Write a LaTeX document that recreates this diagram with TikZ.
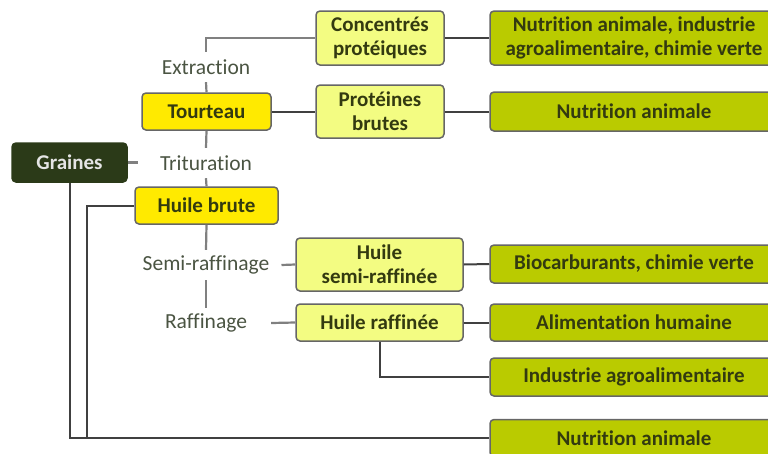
\documentclass[tikz,border=0pt]{standalone}
\usepackage{fontspec}
\setmainfont[Ligatures={NoCommon}]{Carlito}
\usepackage{xcolor}
\usepackage{tikz}
\usetikzlibrary{positioning,calc}

\definecolor{darkgreen}{HTML}{2B3A18}
\definecolor{brightyellow}{HTML}{FFEA00}
\definecolor{paleyellow}{HTML}{F3FC82}
\definecolor{olivegreen}{HTML}{BACB00}
\definecolor{boxtext}{HTML}{333A10}
\definecolor{steptext}{HTML}{4A5442}

\begin{document}
\begin{tikzpicture}[x=1pt, y=-1pt,
    font=\fontsize{21.5}{23}\selectfont,
    box/.style={draw=black!60, line width=1.5pt, rounded corners=4pt, align=center,
        text=boxtext, font=\fontsize{21}{24}\selectfont\bfseries, inner sep=0pt},
    seed/.style={box, fill=darkgreen, text=white!90!black, draw=darkgreen},
    product/.style={box, fill=brightyellow},
    derived/.style={box, fill=paleyellow},
    use/.style={box, fill=olivegreen},
    stage/.style={text=steptext, inner sep=0pt, minimum height=30pt},
    trunk/.style={draw=black!50, line width=2.2pt},
    link/.style={draw=black!75, line width=2pt}]
    \clip (0,0) rectangle (768,453);

    % main chain
    \node[seed, minimum width=115pt, minimum height=39pt] (graines) at (69.5,162.5) {Graines};
    \node[stage] (extr) at (206,67) {Extraction};
    \node[product, minimum width=129pt, minimum height=37pt] (tourteau) at (206.5,111.5) {Tourteau};
    \node[stage] (trit) at (206,163) {Trituration};
    \node[product, minimum width=143pt, minimum height=37pt] (hbrute) at (206.5,205.5) {Huile brute};
    \node[stage] (semi) at (206,265) {Semi-raffinage};
    \node[stage] (raff) at (206,323) {Raffinage};

    % derived products
    \node[derived, minimum width=128pt, minimum height=54pt] (conc) at (380,38) {Concentrés\\protéiques};
    \node[derived, minimum width=128pt, minimum height=53pt] (prot) at (380,111.5) {Protéines\\brutes};
    \node[derived, minimum width=167pt, minimum height=53pt] (hsemi) at (379.5,264.5) {Huile\\semi-raffinée};
    \node[derived, minimum width=167pt, minimum height=37pt] (hraff) at (379.5,322.5) {Huile raffinée};

    % uses
    \node[use, minimum width=288pt, minimum height=54pt] (use1) at (634,38) {Nutrition animale, industrie\\agroalimentaire, chimie verte};
    \node[use, minimum width=288pt, minimum height=39pt] (use2) at (634,111.5) {Nutrition animale};
    \node[use, minimum width=288pt, minimum height=38pt] (use3) at (634,264) {Biocarburants, chimie verte};
    \node[use, minimum width=288pt, minimum height=37pt] (use4) at (634,322.5) {Alimentation humaine};
    \node[use, minimum width=288pt, minimum height=38pt] (use5) at (634,377) {Industrie agroalimentaire};
    \node[use, minimum width=288pt, minimum height=37pt] (use6) at (634,438) {Nutrition animale};

    \coordinate (bend) at (87,437);

    % trunk
    \draw[trunk] (conc.west) -| (extr.north);
    \draw[trunk] (extr.south) -- (tourteau.north);
    \draw[trunk] (tourteau.south) -- (trit.north);
    \draw[trunk] (trit.south) -- (hbrute.north);
    \draw[trunk] (hbrute.south) -- (semi.north);
    \draw[trunk] (semi.south) -- (raff.north);
    \draw[trunk] (graines.east) -- ++(10,0);
    \draw[trunk] ([xshift=12pt]semi.east) -- (hsemi.west);
    \draw[trunk] ([xshift=24pt]raff.east) -- (hraff.west);

    % links
    \draw[link] (tourteau.east) -- (prot.west);
    \draw[link] (conc.east) -- (conc.east -| use1.west);
    \draw[link] (prot.east) -- (use2.west);
    \draw[link] (hsemi.east) -- (use3.west);
    \draw[link] (hraff.east) -- (use4.west);
    \draw[link] (hraff.south) |- (use5.west);
    \draw[link] (graines.south) |- (use6.west);
    \draw[link] (hbrute.west) -| (bend);
\end{tikzpicture}
\end{document}
